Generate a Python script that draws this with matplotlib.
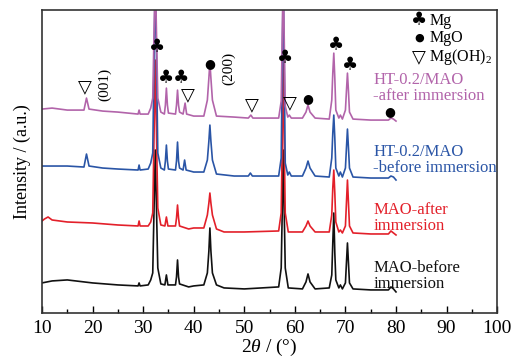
import matplotlib
matplotlib.use("Agg")
import matplotlib.pyplot as plt
from matplotlib.ticker import MultipleLocator

plt.rcParams["font.family"] = ["Liberation Serif", "DejaVu Sans"]
plt.rcParams["mathtext.fontset"] = "custom"
plt.rcParams["mathtext.rm"] = "Liberation Serif"
plt.rcParams["mathtext.it"] = "Liberation Serif:italic"

# --- XRD patterns (2theta, offset intensity a.u.) ---
mao_before_x = [10, 12, 15, 20, 25, 29.0, 29.2, 29.4, 31.0, 31.5, 31.9, 32.1, 32.4, 32.7,
                32.9, 33.5, 34.3, 34.6, 34.9, 36.4, 36.6, 36.8, 37.0, 37.2, 39, 40, 42.0,
                42.7, 43.0, 43.2, 43.4, 43.7, 44.5, 46, 50, 56.8, 57.3, 57.5, 57.7, 57.9,
                58.1, 58.7, 61.5, 62.2, 62.6, 63.0, 64, 66.8, 67.3, 67.5, 67.7, 67.9, 68.1,
                68.7, 69.0, 69.4, 70.0, 70.2, 70.4, 70.6, 70.8, 71.5, 75, 78.5, 79, 79.5, 80]
mao_before_y = [30, 32, 33, 30, 28, 27, 30, 27, 28, 33, 40, 90, 163, 90,
                45, 29, 28, 38, 28, 28, 36, 53, 36, 29, 26, 27, 28,
                40, 62, 85, 62, 40, 28, 25, 24, 26, 45, 100, 163, 100,
                45, 25, 24, 31, 39, 31, 24, 25, 38, 70, 100, 60, 33,
                25, 28, 24, 30, 50, 70, 50, 30, 24, 23, 23, 26, 24, 21]

mao_after_x = [10, 10.5, 11.2, 12, 15, 20, 25, 29.0, 29.2, 29.4, 31.0, 31.5, 31.9, 32.1,
               32.4, 32.7, 32.9, 33.5, 34.3, 34.6, 34.9, 36.4, 36.6, 36.8, 37.0, 37.2, 39,
               40, 42.0, 42.7, 43.0, 43.2, 43.4, 43.7, 44.5, 46, 50, 56.8, 57.3, 57.5,
               57.7, 57.9, 58.1, 58.7, 61.5, 62.2, 62.6, 63.0, 64, 66.8, 67.3, 67.5, 67.7,
               67.9, 68.1, 68.7, 69.0, 69.4, 70.0, 70.2, 70.4, 70.6, 70.8, 71.5, 75, 78.5,
               79, 79.5, 80]
mao_after_y = [92, 94, 96, 93, 91, 90, 88, 87, 92, 87, 87, 91, 100, 160,
               253, 160, 105, 88, 87, 96, 87, 87, 95, 108, 95, 87, 84,
               85, 85, 98, 110, 120, 110, 98, 84, 81, 81, 82, 100, 170,
               263, 170, 100, 81, 81, 87, 92, 87, 81, 81, 98, 125, 143,
               120, 91, 81, 83, 80, 87, 110, 133, 110, 87, 80, 79, 79,
               82, 80, 78]

ht_before_x = [10, 12, 15, 18.3, 18.8, 19.3, 22, 25, 29.0, 29.2, 29.4, 31.0, 31.5, 31.9,
               32.4, 32.9, 33.5, 34.2, 34.4, 34.6, 34.8, 35.0, 36.4, 36.6, 36.8, 37.0,
               37.2, 37.9, 38.2, 38.5, 40, 42.0, 42.7, 43.0, 43.2, 43.4, 43.7, 44.5, 48,
               50.8, 51.2, 51.6, 56.8, 57.3, 57.7, 58.1, 58.6, 58.9, 59.3, 61.5, 62.2, 62.6,
               63.0, 64, 66.8, 67.3, 67.5, 67.7, 67.9, 68.1, 68.7, 69.0, 69.4, 70.0, 70.2,
               70.4, 70.6, 70.8, 71.5, 75, 78.5, 79, 79.5, 80]
ht_before_y = [147, 147, 147, 146, 159, 147, 145, 144, 143, 148, 143, 144, 150, 160,
               340, 160, 145, 143, 152, 168, 152, 144, 143, 152, 171, 152,
               145, 143, 153, 143, 141, 141, 153, 172, 188, 172, 153, 139, 137,
               137, 140, 137, 137, 155, 340, 150, 138, 141, 137, 137, 145, 152,
               145, 137, 136, 155, 180, 198, 175, 145, 137, 141, 136, 145, 165,
               184, 165, 145, 136, 135, 135, 137, 136, 133]

ht_after_x = [10, 12, 15, 18.3, 18.8, 19.3, 22, 25, 29.0, 29.2, 29.4, 31.0, 31.5, 31.9,
              32.4, 32.9, 33.5, 34.2, 34.4, 34.6, 34.8, 35.0, 36.4, 36.6, 36.8, 37.0,
              37.2, 37.9, 38.3, 38.6, 40, 42.0, 42.7, 43.0, 43.2, 43.4, 43.7, 44.5, 48,
              50.8, 51.3, 51.7, 56.8, 57.3, 57.7, 58.1, 58.6, 58.9, 59.3, 61.5, 62.2, 62.6,
              63.0, 64, 66.8, 67.3, 67.5, 67.7, 67.9, 68.1, 68.7, 69.0, 69.4, 70.0, 70.2,
              70.4, 70.6, 70.8, 71.5, 75, 78.5, 79, 79.5, 80]
ht_after_y = [204, 205, 203, 203, 215, 204, 202, 201, 199, 203, 199, 199, 205, 215,
              340, 215, 201, 199, 208, 225, 208, 200, 199, 208, 223, 208,
              201, 199, 210, 199, 197, 197, 213, 235, 251, 235, 213, 197, 196,
              195, 198, 195, 195, 212, 340, 207, 196, 198, 195, 195, 201, 208,
              201, 195, 194, 213, 240, 260, 235, 203, 195, 198, 194, 203, 222,
              240, 222, 201, 194, 193, 193, 195, 194, 192]

series_labels = ["MAO-before\nimmersion", "MAO-after\nimmersion",
                 "HT-0.2/MAO\n-before immersion", "HT-0.2/MAO\n-after immersion"]
series_colors = ["#111111", "#e3202a", "#2a55a6", "#b264aa"]
label_y = [37, 95, 153, 225]

# phase markers: (2theta, height, symbol count)
mg_marks = [(32.7, 266, 1), (36.2, 235, 2), (58.1, 255, 1), (68.1, 268, 1), (70.9, 248, 1)]
mgo_marks = [(43.2, 250), (62.6, 215), (78.8, 201)]
mgoh_marks = [(18.5, 226), (38.9, 218), (51.5, 208), (59.0, 210)]
hkl_notes = [(22.3, 229, "(001)"), (47.0, 245, "(200)")]

fig = plt.figure(figsize=(5.12, 3.63), dpi=100)
ax = fig.add_axes([0.082, 0.138, 0.889, 0.834])

curves = [(mao_before_x, mao_before_y), (mao_after_x, mao_after_y),
          (ht_before_x, ht_before_y), (ht_after_x, ht_after_y)]
for (xs, ys), c in zip(curves, series_colors):
    ax.plot(xs, ys, color=c, lw=1.2)

for lab, c, yl in zip(series_labels, series_colors, label_y):
    ax.text(75.5, yl, lab, color=c, fontsize=12, va="center", ha="left",
            linespacing=1.05)

sym_font = ["DejaVu Sans"]
for x, y, n in mg_marks:
    ax.text(x, y, "\u2663" * n, fontsize=13, ha="center", va="center", family=sym_font)
for x, y in mgo_marks:
    ax.text(x, y, "\u25cf", fontsize=9, ha="center", va="center", family=sym_font)
for x, y in mgoh_marks:
    ax.text(x, y, "\u25bd", fontsize=13, ha="center", va="center", family=sym_font)
for x, y, t in hkl_notes:
    ax.text(x, y, t, fontsize=11, rotation=90, ha="center", va="center")

# legend for phases
ax.text(84.6, 293, "\u2663", fontsize=13, ha="center", va="center", family=sym_font)
ax.text(86.6, 292, "Mg", fontsize=11.5, ha="left", va="center")
ax.text(84.6, 276, "\u25cf", fontsize=8, ha="center", va="center", family=sym_font)
ax.text(86.6, 275, "MgO", fontsize=11.5, ha="left", va="center")
ax.text(84.6, 256, "\u25bd", fontsize=13, ha="center", va="center", family=sym_font)
ax.text(86.6, 256, "Mg(OH)$_2$", fontsize=11.5, ha="left", va="center")

ax.set_xlim(10, 100)
ax.set_ylim(0, 303)
ax.set_yticks([])
ax.xaxis.set_major_locator(MultipleLocator(10))
ax.xaxis.set_minor_locator(MultipleLocator(5))
ax.tick_params(axis="x", which="major", direction="in", length=5, width=1,
               labelsize=14, pad=5)
ax.tick_params(axis="x", which="minor", direction="in", length=3, width=1)
for s in ax.spines.values():
    s.set_linewidth(1.2)
    s.set_color("#333333")

ax.set_xlabel(r"2$\it{\theta}$ / (°)", fontsize=14, labelpad=0)
ax.set_ylabel("Intensity / (a.u.)", fontsize=13, labelpad=8)

fig.savefig("out.png", dpi=100)
